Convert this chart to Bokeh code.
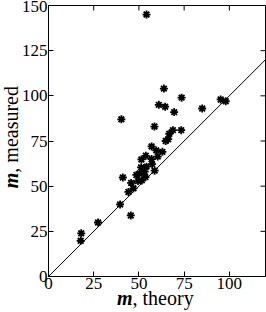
from bokeh.plotting import figure
from bokeh.models import LinearAxis, FixedTicker, Range1d, Div
from bokeh.layouts import row, column
from bokeh.embed import file_html
from bokeh.resources import INLINE
import math

# data
m_theory = [17.8, 18.1, 27.4, 39.6, 45.5, 44.2, 45.7, 47.0, 41.1, 40.3,
            48.6, 50.4, 49.5, 51.6, 53.2, 51.2, 54.2, 51.4, 53.8, 57.0,
            57.3, 58.7, 57.0, 59.6, 63.0, 60.4, 64.8, 66.2, 66.8, 68.8,
            73.4, 58.6, 61.0, 64.5, 63.8, 69.5, 73.6, 85.0, 95.2, 98.0,
            54.2, 53.6]
m_measured = [19.8, 23.9, 29.9, 39.9, 33.8, 46.8, 51.8, 48.8, 54.8, 87.0,
              56.2, 57.0, 52.8, 53.2, 58.0, 60.4, 60.8, 64.8, 66.8, 65.0,
              62.2, 58.6, 72.0, 69.8, 69.0, 66.4, 75.0, 76.0, 79.0, 81.0,
              81.0, 83.0, 95.0, 94.0, 104.0, 91.0, 99.0, 93.0, 98.0, 97.0,
              145.0, 55.0]
line_x = [0, 120]
line_y = [0, 120]
x_ticks = [0, 25, 50, 75, 100]
y_ticks = [0, 25, 50, 75, 100, 125, 150]
x_max = 120
y_max = 150
x_label_var, x_label_rest = "m", ", theory"
y_label_var, y_label_rest = "m", ", measured"

FONT = "Liberation Serif"
FS = "17px"

p = figure(width=248, height=296, output_backend="svg", toolbar_location=None,
           x_range=Range1d(0, x_max), y_range=Range1d(0, y_max),
           min_border_left=28, min_border_right=1, min_border_top=5,
           min_border_bottom=20, x_axis_location=None, y_axis_location=None,
           margin=0)
p.grid.visible = False
p.outline_line_color = "black"
p.outline_line_width = 1
p.background_fill_color = "white"
p.border_fill_color = None

def style_axis(ax, ticks):
    ax.ticker = FixedTicker(ticks=ticks)
    ax.major_tick_in = 5
    ax.major_tick_out = 0
    ax.minor_tick_line_color = None
    ax.axis_line_color = "black"
    ax.major_tick_line_color = "black"
    ax.major_label_text_font = FONT
    ax.major_label_text_color = "black"
    ax.major_label_text_font_size = FS
    ax.major_label_standoff = 1

xb = LinearAxis(); style_axis(xb, x_ticks)
yl = LinearAxis(); style_axis(yl, y_ticks)
p.add_layout(xb, "below")
p.add_layout(yl, "left")

# mirrored inward ticks on top and right edges
p.ray(x=x_ticks, y=[y_max] * len(x_ticks), length=5, length_units="screen",
      angle=-math.pi / 2, line_color="black", line_width=1)
p.ray(x=[x_max] * len(y_ticks), y=y_ticks, length=5, length_units="screen",
      angle=math.pi, line_color="black", line_width=1)

p.line(line_x, line_y, line_color="black", line_width=1)
p.scatter(m_theory, m_measured, marker="asterisk", size=8, line_color="black",
          line_width=1.8)
p.scatter(m_theory, m_measured, marker="circle", size=3, fill_color="black",
          line_color=None)

LBL = ("font-family:'Liberation Serif',serif;font-size:20px;line-height:20px;"
       "color:black;white-space:nowrap;")
xdiv = Div(width=266, height=16, margin=0,
           text=f"<div style=\"{LBL}position:relative;top:-8px;margin-left:117px;\">"
                f"<b><i>{x_label_var}</i></b>{x_label_rest}</div>")
ydiv = Div(width=18, height=296, margin=0,
           text=f"<div style=\"{LBL}display:inline-block;margin-left:1px;margin-top:86px;"
                f"writing-mode:vertical-rl;transform:rotate(180deg);\">"
                f"<b><i>{y_label_var}</i></b>{y_label_rest}</div>")

layout = column(row(ydiv, p, spacing=0), xdiv, spacing=0)

open("out.html", "w").write(file_html(layout, INLINE))
